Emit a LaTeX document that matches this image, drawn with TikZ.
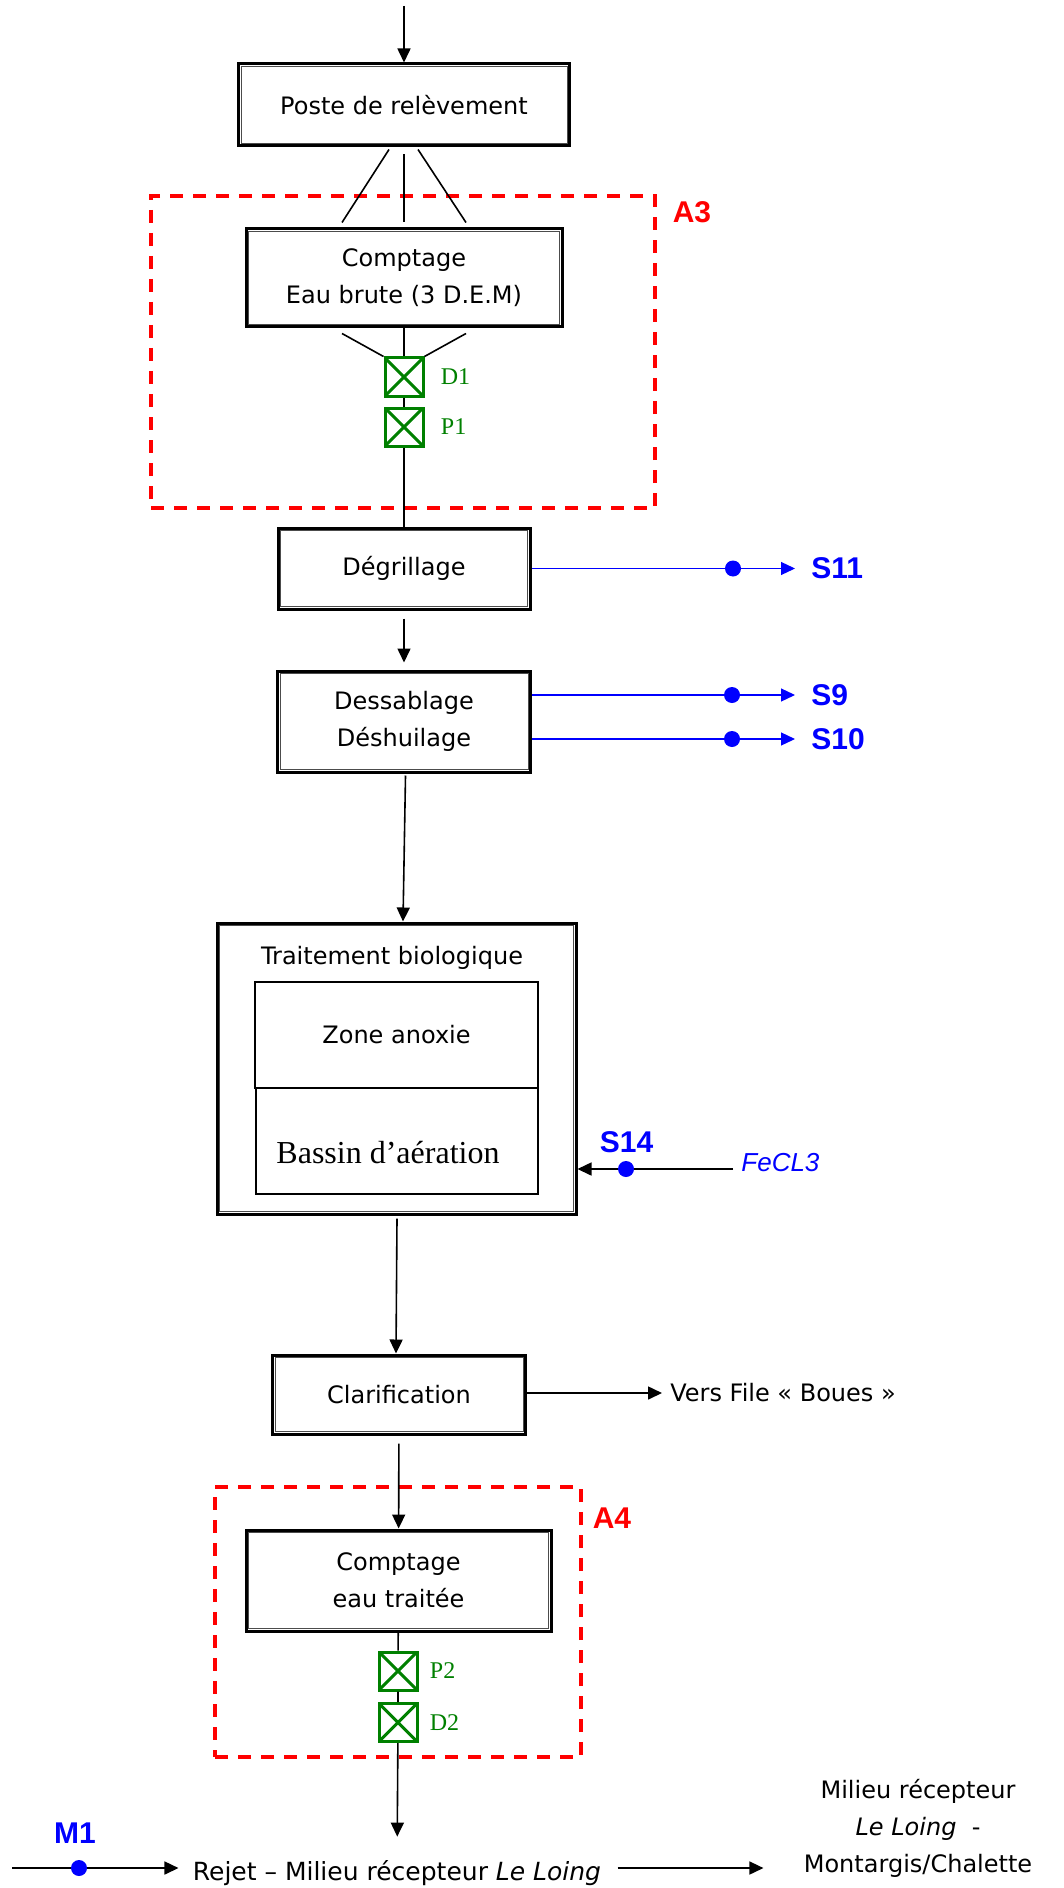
\documentclass[tikz,border=0pt]{standalone}
\usepackage{fontspec}
\setmainfont{DejaVu Sans}
\newfontfamily\tmsfont{Liberation Serif}
\newfontfamily\arlfont{Liberation Sans}
\usetikzlibrary{calc,arrows.meta}
\definecolor{sblue}{RGB}{0,0,255}
\definecolor{sred}{RGB}{255,0,0}
\definecolor{vgreen}{RGB}{0,128,0}
\def\boxfont{\fontsize{12}{18.5}\selectfont}
\def\lblfont{\arlfont\bfseries\fontsize{15}{18}\selectfont}
\tikzset{
	dblbox/.style={draw, line width=1.5pt, inner sep=0pt, align=center, font=\boxfont,
		append after command={\pgfextra{\draw[black!70, line width=0.5pt] ([shift={(2pt,-2pt)}]\tikzlastnode.north west) rectangle ([shift={(-2pt,2pt)}]\tikzlastnode.south east);}}},
	zonebox/.style={draw, line width=1.3pt, font=\boxfont},
	valve/.style={draw=vgreen, line width=1.5pt, minimum size=19pt, inner sep=0pt,
		path picture={\draw[vgreen, line width=1.5pt] (path picture bounding box.north west) -- (path picture bounding box.south east) (path picture bounding box.north east) -- (path picture bounding box.south west);}},
	vlbl/.style={text=vgreen, font=\tmsfont\fontsize{12}{14}\selectfont, anchor=west, inner sep=0pt},
	sdot/.style={circle, fill=sblue, minimum size=8pt, inner sep=0pt},
	slbl/.style={text=sblue, font=\lblfont, inner sep=0pt},
	zone/.style={draw=sred, line width=1.8pt, dash pattern=on 6.5pt off 5pt},
	zonelbl/.style={text=sred, font=\lblfont, inner sep=0pt},
	conn/.style={line width=0.8pt},
	arr/.style={line width=0.8pt, -{Triangle[length=7pt,width=6.5pt]}},
	bline/.style={sblue, line width=0.6pt},
	barr/.style={sblue, line width=0.6pt, -{Triangle[length=7pt,width=6.5pt]}}
}

\begin{document}
\begin{tikzpicture}[x=0.5pt,y=-0.5pt]
			%%%%% START %%%%%
			\useasboundingbox (0,0) rectangle (1064,1888);
			
			\node[zone, minimum width=252pt, minimum height=156pt] (za3) at (403,352) {};
			\node[zonelbl] (la3) at (692,212) {A3};
			\node[zone, minimum width=183pt, minimum height=135pt] (za4) at (398,1622) {};
			\node[zonelbl] (la4) at (612,1518) {A4};
			
			\coordinate (entree) at (404,6);
			\node[dblbox, minimum width=165.5pt, minimum height=41pt] (poste) at (404,105) {Poste de relèvement};
			\node[dblbox, minimum width=158pt, minimum height=49pt] (cpt1) at (404,278) {Comptage\\Eau brute (3 D.E.M)};
			\node[valve] (d1) at (404,377) {};
			\node[valve] (p1) at (404,427) {};
			\node[vlbl] (ld1) at ($(d1.east)+(16,0)$) {D1};
			\node[vlbl] (lp1) at ($(p1.east)+(16,0)$) {P1};
			
			\node[dblbox, minimum width=126pt, minimum height=40.5pt] (degr) at (404,568.5) {Dégrillage};
			\node[dblbox, minimum width=126.5pt, minimum height=50.5pt] (dess) at (404,721.5) {Dessablage\\Déshuilage};
			
			\node[dblbox, minimum width=179.5pt, minimum height=145.5pt] (bio) at (396.5,1068.5) {};
			\node[font=\boxfont] (tbio) at (392,958) {Traitement biologique};
			\node[zonebox, minimum width=141.5pt, minimum height=53pt] (anox) at (396.5,1035) {Zone anoxie};
			\node[zonebox, minimum width=141pt, minimum height=53pt] (bassin) at (397,1141) {};
			\node[font=\tmsfont\fontsize{16}{18}\selectfont] (tbas) at (388,1153) {Bassin d’aération};
			
			\node[dblbox, minimum width=126.5pt, minimum height=39.5pt] (clar) at (399,1394.5) {Clarification};
			\node[dblbox, minimum width=152.5pt, minimum height=50.5pt] (cpt2) at (398.5,1580.5) {Comptage\\eau traitée};
			\node[valve] (p2) at (398,1671) {};
			\node[valve] (d2) at (398,1722.5) {};
			\node[vlbl] (lp2) at ($(p2.east)+(11,0)$) {P2};
			\node[vlbl] (ld2) at ($(d2.east)+(11,0)$) {D2};
			
			\node[font=\fontsize{12.5}{15}\selectfont, anchor=base, inner sep=0pt] (rejet) at (397,1880) {Rejet – Milieu récepteur \textit{Le Loing}};
			\node[font=\boxfont, align=center, inner sep=0pt] (milieu) at (918,1828) {Milieu récepteur\\\textit{Le Loing}\ \ -\\Montargis/Chalette};
			\node[font=\boxfont, anchor=west, inner sep=0pt] (boues) at (670,1393) {Vers File « Boues »};
			
			% main line
			\draw[arr] (entree) -- (poste);
			\draw[conn] ($(poste.south)+(-15,2)$) -- ($(cpt1.north)+(-62,-5)$);
			\draw[conn] ($(poste.south)+(0,7)$) -- ($(cpt1.north)+(0,-5)$);
			\draw[conn] ($(poste.south)+(14,2)$) -- ($(cpt1.north)+(62,-5)$);
			\draw[conn] ($(cpt1.south)+(-62,5)$) -- (d1.north west);
			\draw[conn] ($(cpt1.south)+(62,5)$) -- (d1.north east);
			\draw[conn] (cpt1) -- (d1) -- (p1) -- (degr);
			\draw[arr, shorten <=4pt, shorten >=3.5pt] (degr) -- (dess);
			\draw[arr] ($(dess.south)+(1.5,2)$) -- ($(bio.north)+(6.5,0)$);
			\draw[arr] ($(bio.south)+(0.5,3)$) -- ($(clar.north)+(-3,0)$);
			\draw[arr, shorten <=4pt] (clar) -- (cpt2);
			\draw[conn] (cpt2) -- (p2) -- (d2);
			\draw[arr, shorten >=11.5pt] (d2) -- (rejet);
			\draw[arr, shorten >=4pt] (clar.east |- boues) -- (boues.west);
			
			% S points
			\node[sdot] (s11d) at (733,568.5) {};
			\node[slbl, anchor=west] (ls11) at (811,568.5) {S11};
			\draw[bline] (degr.east |- s11d) -- (s11d);
			\draw[barr, shorten >=8pt] (s11d) -- (ls11.west);
			
			\node[sdot] (s9d) at (732,695) {};
			\node[slbl, anchor=west] (ls9) at (811,695) {S9};
			\draw[bline] (dess.east |- s9d) -- (s9d);
			\draw[barr, shorten >=8pt] (s9d) -- (ls9.west);
			
			\node[sdot] (s10d) at (732,739) {};
			\node[slbl, anchor=west] (ls10) at (811,739) {S10};
			\draw[bline] (dess.east |- s10d) -- (s10d);
			\draw[barr, shorten >=8pt] (s10d) -- (ls10.west);
			
			\coordinate (fecl) at (733,1169);
			\node[sdot] (s14d) at (626,1169) {};
			\node[slbl] (ls14) at (626.5,1142) {S14};
			\node[font=\arlfont\itshape\fontsize{13}{15}\selectfont, text=sblue, anchor=west, inner sep=0pt] (lfecl) at (741,1163) {FeCL3};
			\draw[conn] (fecl) -- (s14d);
			\draw[arr] (s14d) -- (bio.east |- s14d);
			
			\coordinate (m1s) at (12,1868);
			\node[sdot] (m1d) at (79,1868) {};
			\node[slbl] (lm1) at (75,1833) {M1};
			\draw[conn] (m1s) -- (m1d);
			\draw[arr, shorten >=7pt] (m1d) -- (rejet.west |- m1d);
			\draw[arr, shorten <=8pt, shorten >=20pt] (rejet.east |- m1d) -- (milieu.west |- m1d);
			
			%%%%% END %%%%%
\end{tikzpicture}
\end{document}
